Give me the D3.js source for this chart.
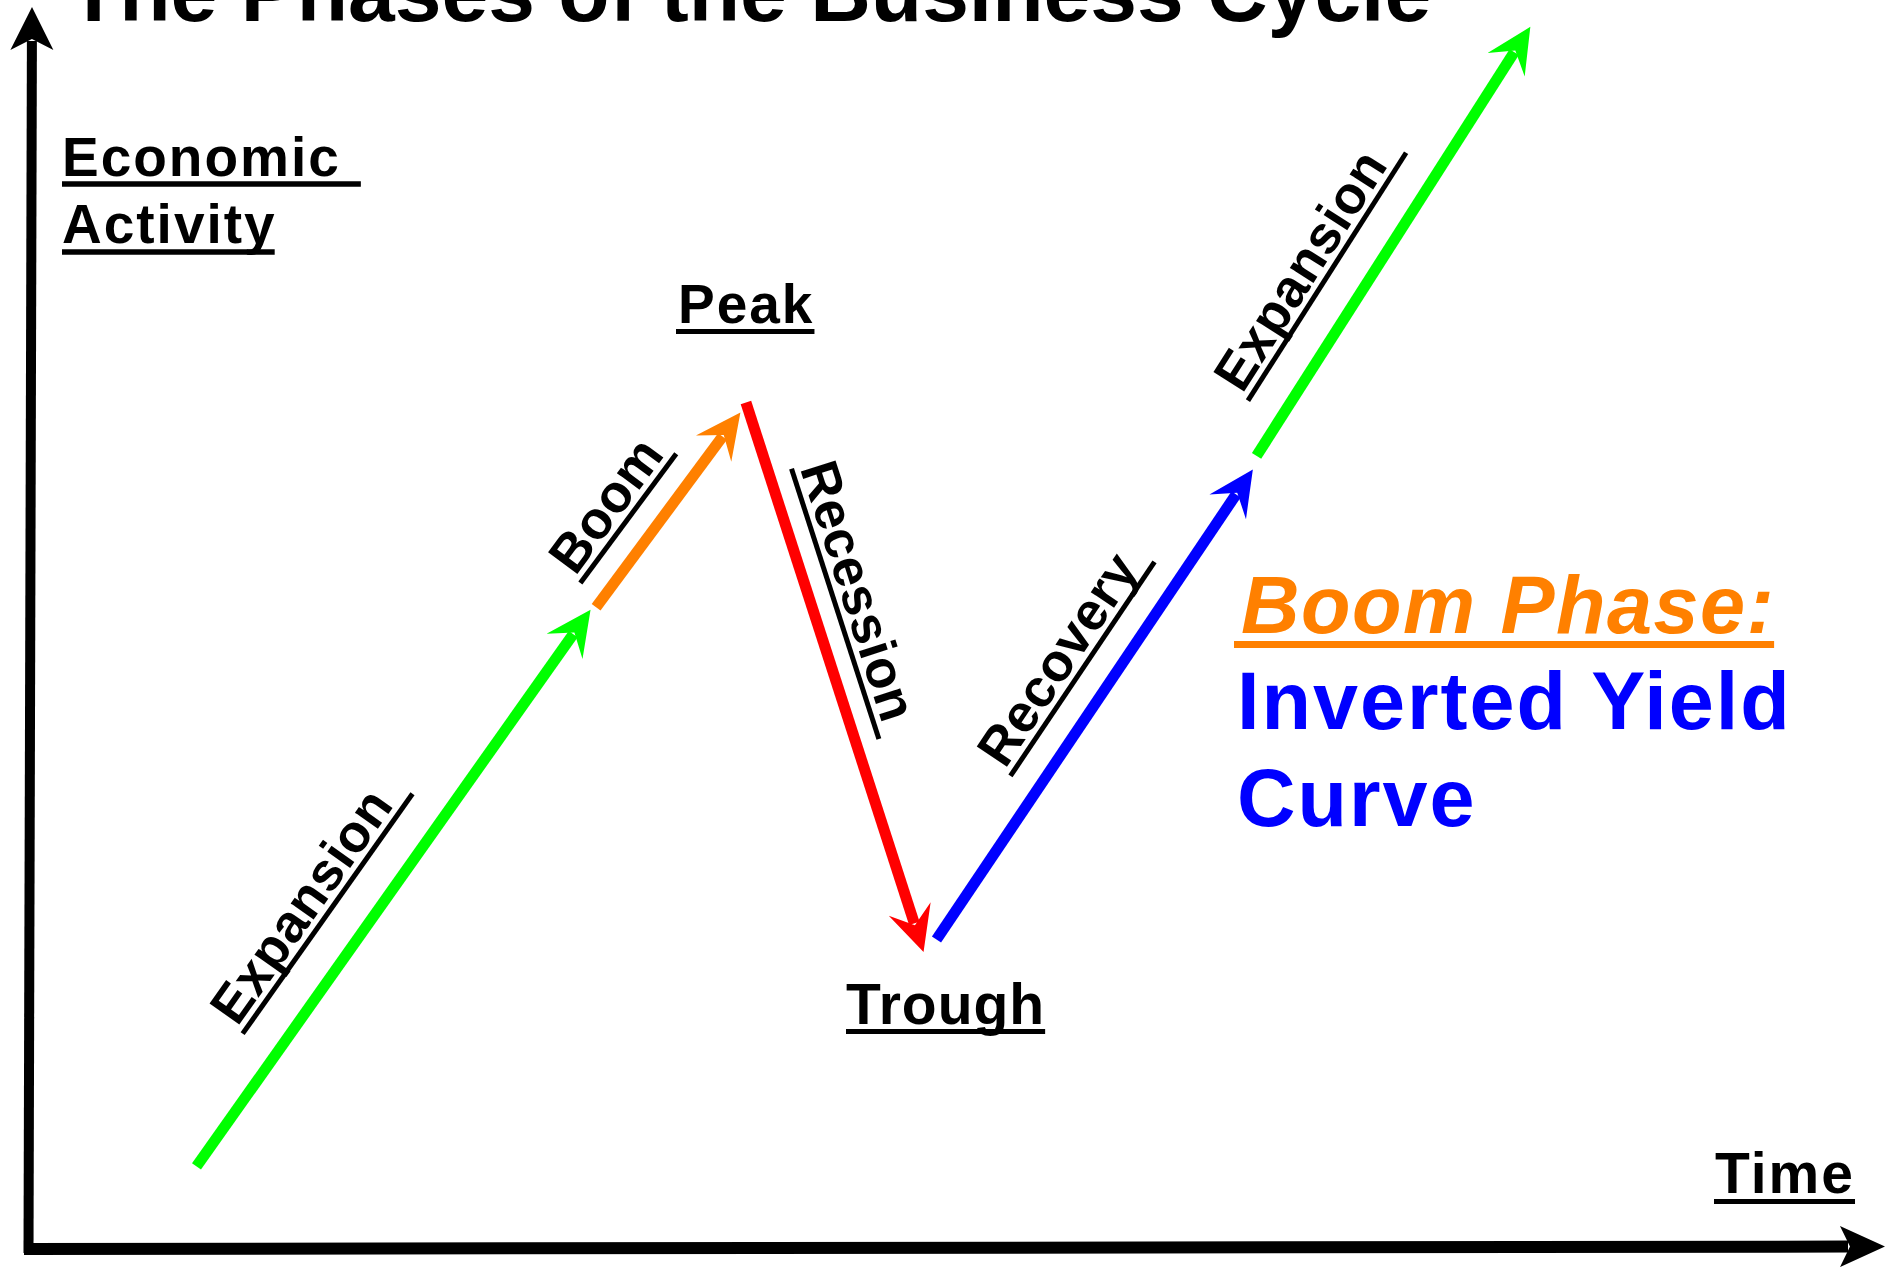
<!DOCTYPE html>
<html lang="en">
<head>
<meta charset="UTF-8">
<title>The Phases of the Business Cycle</title>
<script src="https://d3js.org/d3.v7.min.js"></script>
<style>
  html, body { margin: 0; padding: 0; background: #fff; overflow: hidden; }
  svg { display: block; }
  text { font-family: "Liberation Sans", Arial, Helvetica, sans-serif; font-weight: bold; }
</style>
</head>
<body>
<div id="chart"></div>
<script>
// each phase is one arrow, in chart units (time 0-100, activity 0-100)
const phaseNames = ["Expansion", "Boom", "Recession", "Recovery", "Expansion"];
const phaseColors = ["#00ff00", "#ff8000", "#ff0000", "#0000ff", "#00ff00"];
const startTime = [9.0, 30.6, 38.7, 49.0, 66.3];
const endTime = [30.3, 38.4, 48.3, 66.1, 81.1];
const startActivity = [6.5, 51.6, 68.1, 24.8, 63.8];
const endActivity = [51.4, 67.3, 23.8, 62.7, 98.4];

// where the rotated phase labels sit along / beside their arrow (px)
const labelAlong = [135, 10, 77, 177, 42];
const labelOffset = [39, 27, 23, 30, 37];
const underlineLength = [294, 161, 284, 258, 294];

const width = 1885, height = 1267;

const x = d3.scaleLinear().domain([0, 100]).range([30, 1880]);
const y = d3.scaleLinear().domain([0, 100]).range([1247, 7]);

const svg = d3.select("#chart").append("svg")
    .attr("width", width)
    .attr("height", height);

// filled arrow head with a swept-back notch
function arrowHead(x1, y1, ux, uy, len, hw, notch) {
    const nx = -uy, ny = ux;
    return d3.line()([
        [x1, y1],
        [x1 - ux * len + nx * hw, y1 - uy * len + ny * hw],
        [x1 - ux * notch, y1 - uy * notch],
        [x1 - ux * len - nx * hw, y1 - uy * len - ny * hw]
    ]) + "Z";
}

function arrow(x0, y0, x1, y1, color, w, len, hw, notch) {
    const L = Math.hypot(x1 - x0, y1 - y0);
    const ux = (x1 - x0) / L, uy = (y1 - y0) / L;
    svg.append("line")
        .attr("x1", x0).attr("y1", y0)
        .attr("x2", x1 - ux * (notch + 2)).attr("y2", y1 - uy * (notch + 2))
        .attr("stroke", color)
        .attr("stroke-width", w);
    svg.append("path")
        .attr("d", arrowHead(x1, y1, ux, uy, len, hw, notch))
        .attr("fill", color);
}

function underlined(str, tx, ty, o) {
    const t = svg.append("text")
        .attr("x", tx).attr("y", ty)
        .attr("font-size", o.size)
        .attr("letter-spacing", o.ls)
        .attr("fill", o.color || "#000")
        .attr("font-style", o.italic ? "italic" : "normal")
        .text(str);
    const len = t.node().getComputedTextLength();
    svg.append("line")
        .attr("x1", tx + (o.ulStart || 0)).attr("x2", tx + len + o.ulExtra)
        .attr("y1", ty + o.ulGap).attr("y2", ty + o.ulGap)
        .attr("stroke", o.color || "#000")
        .attr("stroke-width", o.ulWidth);
}

// axes
arrow(28.5, 1253, 32, 7, "#000", 10, 43, 21.5, 32);
arrow(24, 1249, 1885, 1246.5, "#000", 12, 45, 20.5, 35);

// title (runs off the top edge, as in the original)
svg.append("text")
    .attr("x", 68).attr("y", 21)
    .attr("font-size", 84)
    .text("The Phases of the Business Cycle");

// phase arrows and their labels
phaseNames.forEach((name, i) => {
    const x0 = x(startTime[i]), y0 = y(startActivity[i]);
    const x1 = x(endTime[i]), y1 = y(endActivity[i]);
    arrow(x0, y0, x1, y1, phaseColors[i], 11, 45, 22, 28);

    const ang = Math.atan2(y1 - y0, x1 - x0) * 180 / Math.PI;
    const g = svg.append("g")
        .attr("transform", `translate(${x0},${y0}) rotate(${ang})`);
    g.append("text")
        .attr("x", labelAlong[i] + 2)
        .attr("y", -(labelOffset[i] + 8))
        .attr("font-size", 53)
        .attr("letter-spacing", 0.5)
        .text(name);
    g.append("line")
        .attr("x1", labelAlong[i]).attr("x2", labelAlong[i] + underlineLength[i])
        .attr("y1", -labelOffset[i]).attr("y2", -labelOffset[i])
        .attr("stroke", "#000")
        .attr("stroke-width", 5);
});

// axis titles and turning points
underlined("Economic", 62, 176, {size: 55, ls: 2, ulGap: 8, ulWidth: 5.5, ulExtra: 20});
underlined("Activity", 62, 243, {size: 55, ls: 2, ulGap: 9, ulWidth: 5.5, ulExtra: -2});
underlined("Peak", 678, 323, {size: 55, ls: 2, ulGap: 8.5, ulWidth: 5, ulStart: -2, ulExtra: 0});
underlined("Trough", 846, 1024, {size: 57, ls: 1, ulGap: 7.5, ulWidth: 5, ulExtra: 0});
underlined("Time", 1715, 1193, {size: 57, ls: 2, ulGap: 8.5, ulWidth: 5, ulStart: -1, ulExtra: 0});

// note on the right
underlined("Boom Phase:", 1241, 633, {size: 81, ls: 1.5, color: "#ff8000", italic: true,
    ulGap: 11.5, ulWidth: 7, ulStart: -7, ulExtra: -1});
svg.append("text")
    .attr("x", 1237).attr("y", 729)
    .attr("font-size", 81)
    .attr("letter-spacing", 2)
    .attr("fill", "#0000ff")
    .text("Inverted Yield");
svg.append("text")
    .attr("x", 1237).attr("y", 826)
    .attr("font-size", 81)
    .attr("letter-spacing", 2)
    .attr("fill", "#0000ff")
    .text("Curve");
</script>
</body>
</html>
